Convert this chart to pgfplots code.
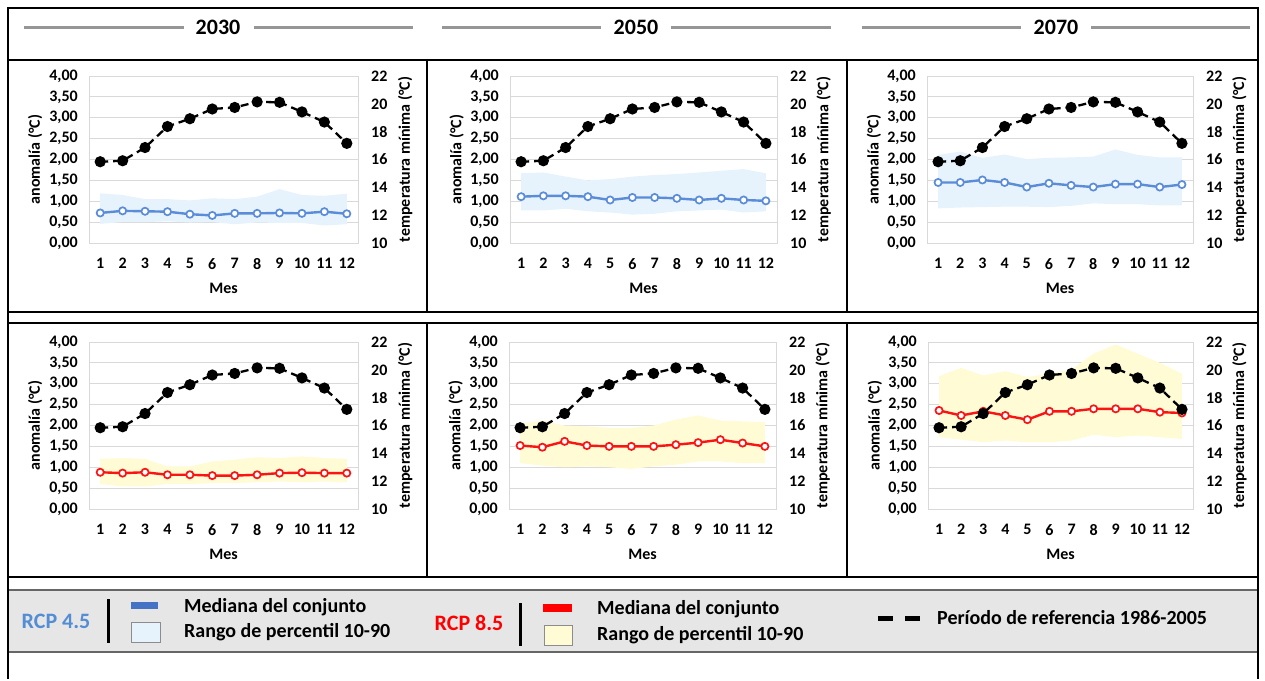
\documentclass[border=0pt]{standalone}
\usepackage{fontspec}
\setmainfont{Carlito}
\usepackage{pgfplots}
\pgfplotsset{compat=1.18}
\usepackage{pgfplotstable}
\usepgfplotslibrary{fillbetween}
\newcommand\fs[1]{\fontsize{#1}{#1}\selectfont}
\definecolor{blueline}{RGB}{90,140,215}
\definecolor{blueband}{RGB}{230,243,253}
\definecolor{redline}{RGB}{250,20,20}
\definecolor{yellowband}{RGB}{255,251,212}
\definecolor{gridc}{RGB}{217,217,217}
\definecolor{legbg}{RGB}{230,230,230}
\definecolor{rcpblue}{RGB}{84,141,212}
\definecolor{legblue}{RGB}{68,114,196}
\definecolor{titlegray}{RGB}{150,150,150}

% Reference period 1986-2005 (minimum temperature, degC)
\pgfplotstableread{
m ref
1 15.84
2 15.91
3 16.86
4 18.37
5 18.93
6 19.63
7 19.74
8 20.14
9 20.11
10 19.42
11 18.69
12 17.16
}\tabRef
% RCP 4.5, 2030
\pgfplotstableread{
m med lo hi
1 0.72 0.46 1.19
2 0.77 0.50 1.15
3 0.76 0.50 1.05
4 0.75 0.52 1.05
5 0.69 0.49 1.02
6 0.66 0.50 1.07
7 0.71 0.45 1.05
8 0.71 0.49 1.11
9 0.72 0.48 1.29
10 0.71 0.48 1.15
11 0.75 0.42 1.13
12 0.70 0.45 1.18
}\tabA
% RCP 4.5, 2050
\pgfplotstableread{
m med lo hi
1 1.11 0.78 1.67
2 1.13 0.78 1.69
3 1.13 0.82 1.59
4 1.11 0.76 1.50
5 1.03 0.73 1.53
6 1.09 0.68 1.59
7 1.09 0.70 1.63
8 1.07 0.76 1.65
9 1.03 0.78 1.69
10 1.07 0.80 1.73
11 1.03 0.73 1.77
12 1.01 0.76 1.67
}\tabB
% RCP 4.5, 2070
\pgfplotstableread{
m med lo hi
1 1.45 0.83 2.11
2 1.45 0.85 2.19
3 1.51 0.86 2.04
4 1.45 0.87 2.12
5 1.34 0.87 2.01
6 1.43 0.86 2.04
7 1.38 0.89 2.05
8 1.34 0.95 2.07
9 1.41 0.93 2.24
10 1.41 0.93 2.11
11 1.34 0.90 2.05
12 1.40 0.90 2.05
}\tabC
% RCP 8.5, 2030
\pgfplotstableread{
m med lo hi
1 0.88 0.60 1.20
2 0.86 0.54 1.22
3 0.88 0.54 1.20
4 0.82 0.60 1.02
5 0.82 0.60 1.02
6 0.80 0.62 1.14
7 0.80 0.62 1.18
8 0.82 0.64 1.24
9 0.86 0.66 1.22
10 0.87 0.64 1.26
11 0.86 0.66 1.22
12 0.86 0.64 1.20
}\tabD
% RCP 8.5, 2050
\pgfplotstableread{
m med lo hi
1 1.52 1.10 2.04
2 1.48 1.04 2.12
3 1.62 1.00 2.00
4 1.52 1.02 1.98
5 1.50 1.00 1.94
6 1.50 0.96 1.94
7 1.50 1.02 2.00
8 1.54 1.06 2.14
9 1.59 1.14 2.24
10 1.66 1.14 2.12
11 1.58 1.10 2.10
12 1.50 1.10 2.08
}\tabE
% RCP 8.5, 2070
\pgfplotstableread{
m med lo hi
1 2.36 1.72 3.18
2 2.24 1.66 3.38
3 2.34 1.60 3.20
4 2.24 1.64 3.30
5 2.14 1.60 3.16
6 2.34 1.60 3.24
7 2.34 1.64 3.34
8 2.40 1.78 3.72
9 2.40 1.72 3.94
10 2.40 1.76 3.72
11 2.32 1.72 3.50
12 2.30 1.68 3.24
}\tabF

\pgfplotsset{
  panelbase/.style={
    scale only axis, height=167pt, anchor=south west,
    xmin=0.5, xmax=12.5,
    major tick length=0pt, tick style={draw=none},
    tick label style={font=\bfseries\fs{16}, /pgf/number format/assume math mode=true},
    label style={font=\bfseries\fs{16}},
  },
  panelL/.style={
    panelbase,
    ymin=0, ymax=4, ytick={0,0.5,1,1.5,2,2.5,3,3.5,4},
    xtick={1,2,3,4,5,6,7,8,9,10,11,12},
    ymajorgrids, grid style={draw=gridc, line width=0.9pt},
    axis line style={draw=gridc, line width=0.9pt},
    yticklabel style={/pgf/number format/.cd, fixed, fixed zerofill, precision=2, use comma, /tikz/.cd, anchor=east, inner sep=0pt, xshift=-11pt},
    xticklabel style={anchor=north, inner sep=0pt, yshift=-15pt},
    xlabel={Mes}, xlabel style={at={(axis description cs:0.5,-0.27)}, anchor=center},
    ylabel={anomalía (°C)}, ylabel style={at={(axis description cs:-0.2,0.5)}, anchor=center},
  },
  panelR/.style={
    panelbase,
    ymin=10, ymax=22, ytick={10,12,14,16,18,20,22},
    axis y line*=right, hide x axis, axis line style={draw=none},
    yticklabel style={anchor=west, inner sep=0pt, xshift=13pt},
    ylabel={temperatura mínima (°C)}, ylabel style={at={(axis description cs:1.175,0.5)}, anchor=center, rotate=0},
  },
  medline/.style={color=#1, line width=2.4pt, mark=*, mark size=3.6pt, mark options={fill=white, draw=#1, line width=1.7pt}},
  refline/.style={black, line width=2.3pt, dash pattern=on 8pt off 5pt, mark=*, mark size=4.4pt, mark options={solid, fill=black}},
}

\newcommand\panel[6]{%
  \begin{axis}[panelL, at={(#1pt,-#2pt)}, width=#3pt]
    \addplot[name path=hi, draw=none, mark=none] table[x=m,y=hi]{#4};
    \addplot[name path=lo, draw=none, mark=none] table[x=m,y=lo]{#4};
    \addplot[fill=#6, draw=none] fill between[of=hi and lo];
    \addplot[medline=#5] table[x=m,y=med]{#4};
  \end{axis}
  \begin{axis}[panelR, at={(#1pt,-#2pt)}, width=#3pt]
    \addplot[refline] table[x=m,y=ref]{\tabRef};
  \end{axis}}

\begin{document}
\begin{tikzpicture}
\path (0,0) rectangle (1265pt,-679pt);
\begin{scope}[x=1pt,y=-1pt]
  % legend background
  \fill[legbg] (8,590) rectangle (1258,652);
  \draw[line width=1.2pt, black!60] (8,590) -- (1258,590);
  \draw[line width=1.2pt, black!60] (8,652) -- (1258,652);
  % frame
  \draw[line width=2pt] (7,8) -- (1259,8);
  \draw[line width=2pt] (8,8) -- (8,679);
  \draw[line width=2pt] (1258,8) -- (1258,679);
  \draw[line width=1.5pt] (8,60) -- (1258,60);
  \draw[line width=1.5pt] (8,312) -- (1258,312);
  \draw[line width=1.5pt] (8,323) -- (1258,323);
  \draw[line width=1.5pt] (8,577) -- (1258,577);
  \draw[line width=1.5pt] (427,60) -- (427,312) (847,60) -- (847,312);
  \draw[line width=1.5pt] (427,323) -- (427,577) (847,323) -- (847,577);
  % titles
  \draw[titlegray, line width=3pt] (24,27) -- (184,27) (254,27) -- (413,27);
  \draw[titlegray, line width=3pt] (442,27) -- (601,27) (671,27) -- (831,27);
  \draw[titlegray, line width=3pt] (862,27) -- (1021,27) (1091,27) -- (1250,27);
  \node[font=\bfseries\fs{22}] at (218,27) {2030};
  \node[font=\bfseries\fs{22}] at (636,27) {2050};
  \node[font=\bfseries\fs{22}] at (1056,27) {2070};
  % legend
  \node[font=\bfseries\fs{22}, text=rcpblue] at (56,621) {RCP 4.5};
  \draw[line width=3pt] (108,599) -- (108,643);
  \fill[legblue] (131,602) rectangle (158,609);
  \draw[fill=blueband, draw=black!45] (131,622) rectangle (160,642);
  \node[font=\bfseries\fs{20}, anchor=west, inner sep=0pt] at (184,607) {Mediana del conjunto};
  \node[font=\bfseries\fs{20}, anchor=west, inner sep=0pt] at (184,632) {Rango de percentil 10-90};
  \node[font=\bfseries\fs{22}, text=red] at (469,623) {RCP 8.5};
  \draw[line width=3pt] (520,603) -- (520,646);
  \fill[red] (543,604) rectangle (572,612);
  \draw[fill=yellowband, draw=black!45] (544,625) rectangle (572,645);
  \node[font=\bfseries\fs{20}, anchor=west, inner sep=0pt] at (597,609) {Mediana del conjunto};
  \node[font=\bfseries\fs{20}, anchor=west, inner sep=0pt] at (597,635) {Rango de percentil 10-90};
  \draw[line width=5pt] (878,618) -- (893,618) (905,618) -- (920,618);
  \node[font=\bfseries\fs{20}, anchor=west, inner sep=0pt] at (937,618) {Período de referencia 1986-2005};
\end{scope}
% panels: x-left, y-bottom, width, table, line colour, band colour
\panel{89}{243}{269}{\tabA}{blueline}{blueband}
\panel{510}{243}{267}{\tabB}{blueline}{blueband}
\panel{927}{243}{266}{\tabC}{blueline}{blueband}
\panel{89}{509}{269}{\tabD}{redline}{yellowband}
\panel{509}{509}{267}{\tabE}{redline}{yellowband}
\panel{928}{509}{265}{\tabF}{redline}{yellowband}
\end{tikzpicture}
\end{document}
